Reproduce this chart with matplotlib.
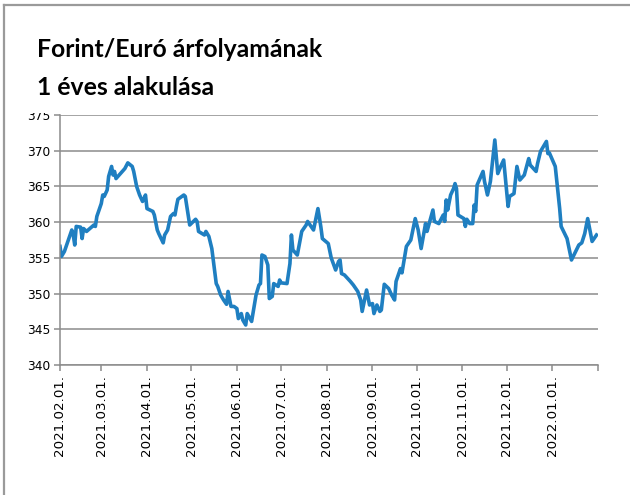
import matplotlib
matplotlib.use('Agg')
import matplotlib.pyplot as plt
from matplotlib.patches import Rectangle
from matplotlib.lines import Line2D
import pandas as pd

# EUR/HUF daily rate
dates = [
    '2021-02-01', '2021-02-02', '2021-02-04', '2021-02-09', '2021-02-10', '2021-02-11',
    '2021-02-12', '2021-02-15', '2021-02-16', '2021-02-17', '2021-02-19', '2021-02-24',
    '2021-02-25', '2021-02-26', '2021-03-01', '2021-03-02', '2021-03-03', '2021-03-05',
    '2021-03-06', '2021-03-08', '2021-03-09', '2021-03-10', '2021-03-11', '2021-03-17',
    '2021-03-19', '2021-03-22', '2021-03-23', '2021-03-25', '2021-03-27', '2021-03-29',
    '2021-03-30', '2021-03-31', '2021-04-01', '2021-04-05', '2021-04-06', '2021-04-08',
    '2021-04-09', '2021-04-12', '2021-04-13', '2021-04-15', '2021-04-17', '2021-04-19',
    '2021-04-20', '2021-04-21', '2021-04-22', '2021-04-26', '2021-04-27', '2021-04-30',
    '2021-05-04', '2021-05-05', '2021-05-06', '2021-05-10', '2021-05-11', '2021-05-13',
    '2021-05-15', '2021-05-18', '2021-05-19', '2021-05-21', '2021-05-23', '2021-05-25',
    '2021-05-26', '2021-05-28', '2021-05-30', '2021-06-01', '2021-06-02', '2021-06-04',
    '2021-06-05', '2021-06-07', '2021-06-08', '2021-06-11', '2021-06-14', '2021-06-16',
    '2021-06-17', '2021-06-18', '2021-06-20', '2021-06-22', '2021-06-23', '2021-06-25',
    '2021-06-26', '2021-06-29', '2021-06-30', '2021-07-01', '2021-07-05', '2021-07-07',
    '2021-07-08', '2021-07-09', '2021-07-12', '2021-07-15', '2021-07-18', '2021-07-19',
    '2021-07-23', '2021-07-26', '2021-07-28', '2021-07-29', '2021-08-02', '2021-08-04',
    '2021-08-07', '2021-08-09', '2021-08-10', '2021-08-11', '2021-08-13', '2021-08-17',
    '2021-08-19', '2021-08-22', '2021-08-24', '2021-08-25', '2021-08-28', '2021-08-30',
    '2021-09-01', '2021-09-02', '2021-09-04', '2021-09-06', '2021-09-07', '2021-09-09',
    '2021-09-12', '2021-09-14', '2021-09-16', '2021-09-17', '2021-09-20', '2021-09-21',
    '2021-09-24', '2021-09-27', '2021-09-30', '2021-10-02', '2021-10-04', '2021-10-07',
    '2021-10-08', '2021-10-12', '2021-10-13', '2021-10-16', '2021-10-19', '2021-10-20',
    '2021-10-21', '2021-10-22', '2021-10-24', '2021-10-26', '2021-10-27', '2021-10-28',
    '2021-10-29', '2021-11-02', '2021-11-03', '2021-11-04', '2021-11-06', '2021-11-08',
    '2021-11-09', '2021-11-10', '2021-11-11', '2021-11-15', '2021-11-16', '2021-11-18',
    '2021-11-20', '2021-11-23', '2021-11-25', '2021-11-27', '2021-11-29', '2021-12-02',
    '2021-12-03', '2021-12-06', '2021-12-08', '2021-12-10', '2021-12-13', '2021-12-16',
    '2021-12-17', '2021-12-21', '2021-12-22', '2021-12-24', '2021-12-28', '2021-12-29',
    '2021-12-30', '2022-01-03', '2022-01-06', '2022-01-07', '2022-01-11', '2022-01-14',
    '2022-01-19', '2022-01-21', '2022-01-23', '2022-01-25', '2022-01-28', '2022-01-31',
]
rates = [
    356.6, 355.2, 355.9, 358.9, 358.2, 356.8,
    359.4, 359.3, 357.7, 359.1, 358.7, 359.6,
    359.4, 360.8, 362.6, 363.8, 363.6, 364.5,
    366.4, 367.8, 366.6, 367.1, 366.1, 367.5,
    368.3, 367.8, 367.1, 365.0, 363.8, 362.9,
    363.3, 363.8, 361.9, 361.5, 361.0, 358.9,
    358.4, 357.1, 358.2, 358.9, 360.8, 361.2,
    361.0, 362.2, 363.2, 363.8, 363.6, 359.6,
    360.4, 360.1, 358.7, 358.2, 358.7, 358.0,
    356.3, 351.4, 351.0, 349.8, 349.1, 348.5,
    350.3, 348.2, 348.2, 347.9, 346.5, 347.2,
    346.3, 345.6, 347.2, 346.1, 349.8, 351.2,
    351.4, 355.4, 355.2, 354.0, 349.3, 349.6,
    351.4, 351.0, 351.9, 351.5, 351.4, 354.2,
    358.2, 356.1, 355.4, 358.7, 359.6, 360.1,
    358.9, 361.9, 359.3, 357.7, 357.0, 355.0,
    353.3, 354.5, 354.7, 352.8, 352.6, 351.7,
    351.2, 350.3, 349.1, 347.5, 350.5, 348.4,
    348.6, 347.2, 348.4, 347.5, 347.7, 351.3,
    350.7, 349.8, 349.1, 351.7, 353.5, 352.9,
    356.6, 357.5, 360.5, 358.9, 356.3, 359.8,
    358.7, 361.7, 360.1, 359.8, 361.0, 360.1,
    363.1, 361.7, 363.8, 364.7, 365.4, 364.7,
    361.0, 360.5, 359.4, 360.4, 359.8, 359.8,
    362.4, 361.5, 365.2, 367.1, 365.7, 363.8,
    365.7, 371.5, 366.8, 367.8, 368.7, 362.2,
    363.6, 364.0, 367.8, 365.9, 366.6, 368.9,
    368.0, 367.1, 368.2, 369.9, 371.3, 369.6,
    369.7, 367.8, 361.9, 359.4, 357.7, 354.7,
    356.8, 357.1, 358.4, 360.5, 357.3, 358.2,
]

month_ticks = pd.date_range('2021-02-01', '2022-02-01', freq='MS')
tick_labels = [d.strftime('%Y.%m.%d.') for d in month_ticks[:-1]] + ['']

title_lines = ['Forint/Euró árfolyamának', '1 éves alakulása']

x = pd.to_datetime(dates)

fig = plt.figure(figsize=(6.3, 4.95), dpi=100)
ax = fig.add_axes([60 / 630, 1 - 365 / 495, 538 / 630, 250 / 495])

ax.plot(x, rates, color='#1f7fc1', linewidth=2.6, solid_joinstyle='round')

ax.set_ylim(340, 375)
ax.set_yticks(range(340, 376, 5))
ax.set_xlim(month_ticks[0], month_ticks[-1])
ax.set_xticks(month_ticks)
ax.set_xticklabels(tick_labels, rotation=90)

ax.grid(axis='y', color='#8c8c8c', linewidth=1.1)
ax.set_axisbelow(True)
for s in ['top', 'right']:
    ax.spines[s].set_visible(False)
for s in ['left', 'bottom']:
    ax.spines[s].set_color('#8c8c8c')
    ax.spines[s].set_linewidth(1.1)
ax.tick_params(axis='both', color='#8c8c8c', length=4, width=1.1, pad=3)
ax.tick_params(axis='y', labelsize=8.8)
ax.tick_params(axis='x', labelsize=9.6)

fig.text(37 / 630, 1 - 57 / 495, title_lines[0], fontsize=17.8, fontweight='bold',
         family='Lato', va='baseline', ha='left')
fig.text(37 / 630, 1 - 95 / 495, title_lines[1], fontsize=17.8, fontweight='bold',
         family='Lato', va='baseline', ha='left')

# white band hiding the top of the "375" label, as in the original
fig.patches.append(Rectangle((10 / 630, 1 - 113 / 495), 46 / 630, 8 / 495,
                             transform=fig.transFigure, facecolor='white',
                             edgecolor='none', zorder=5))
# frame around the chart (top and left visible)
fig.lines.append(Line2D([4 / 630, 4 / 630], [0, 1 - 5 / 495], transform=fig.transFigure,
                        color='#9a9a9a', linewidth=1.6))
fig.lines.append(Line2D([4 / 630, 1], [1 - 5 / 495, 1 - 5 / 495], transform=fig.transFigure,
                        color='#9a9a9a', linewidth=1.6))

fig.savefig('out.png', dpi=100)
